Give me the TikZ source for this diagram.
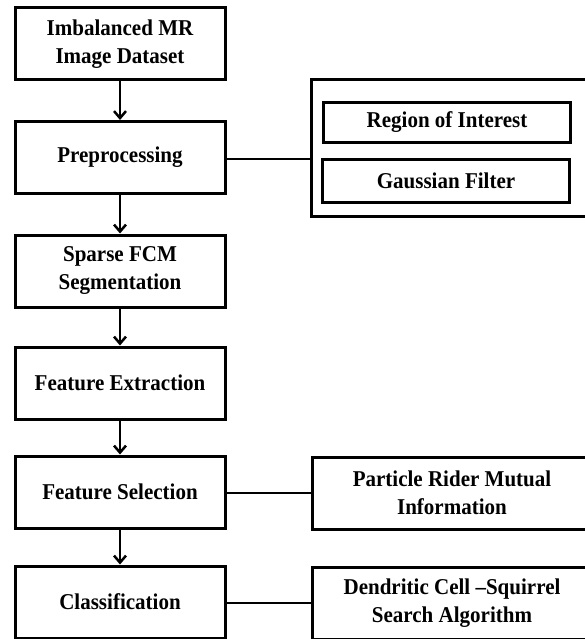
\documentclass[tikz,border=0pt]{standalone}
\usepackage{fontspec}
\setmainfont{Liberation Serif}[FakeStretch=0.93]
\usetikzlibrary{arrows.meta}
\begin{document}
\begin{tikzpicture}[x=1pt,y=-1pt,
  box/.style={draw, line width=3pt, minimum width=210pt, minimum height=72pt,
    align=center, font=\fontsize{22.6}{28}\selectfont\bfseries, inner sep=0pt},
  sidebox/.style={draw, line width=3pt, minimum width=280pt, minimum height=72pt,
    align=center, font=\fontsize{22.6}{28}\selectfont\bfseries, inner sep=0pt},
  inbox/.style={draw, line width=3pt, minimum width=247pt, minimum height=40pt,
    align=center, font=\fontsize{22.6}{28}\selectfont\bfseries, inner sep=0pt},
  arr/.style={line width=2.5pt, -{Straight Barb[length=7pt,width=12pt,line width=2.5pt]}},
  link/.style={line width=2.5pt}]
\useasboundingbox (0,0) rectangle (585,639);
\node[box] (b1) at (120,44) {Imbalanced MR\\Image Dataset};
\node[box] (b2) at (120,157.5) {Preprocessing};
\node[box] (b3) at (120,271) {Sparse FCM\\Segmentation};
\node[box] (b4) at (120,383) {Feature Extraction};
\node[box] (b5) at (120,492) {Feature Selection};
\node[box] (b6) at (120,602) {Classification};
\node[draw, line width=3pt, minimum width=280pt, minimum height=136pt, inner sep=0pt] (outer) at (451,148) {};
\node[inbox] (roi) at (447,122.5) {Region of Interest};
\node[inbox, minimum height=42pt] (gf) at (446,181) {Gaussian Filter};
\node[sidebox] (prmi) at (452,493) {Particle Rider Mutual\\Information};
\node[sidebox] (dcss) at (452,603) {Dendritic Cell --Squirrel\\Search Algorithm};
\draw[arr] (b1.south) -- (b2.north);
\draw[arr] (b2.south) -- (b3.north);
\draw[arr] (b3.south) -- (b4.north);
\draw[arr] (b4.south) -- (b5.north);
\draw[arr] (b5.south) -- (b6.north);
\draw[link] (b2.east) ++(0,1.5) coordinate (p2) -- (p2 -| outer.west);
\draw[link] (b5.east) ++(0,1) coordinate (p5) -- (p5 -| prmi.west);
\draw[link] (b6.east) ++(0,1) coordinate (p6) -- (p6 -| dcss.west);
\end{tikzpicture}
\end{document}
